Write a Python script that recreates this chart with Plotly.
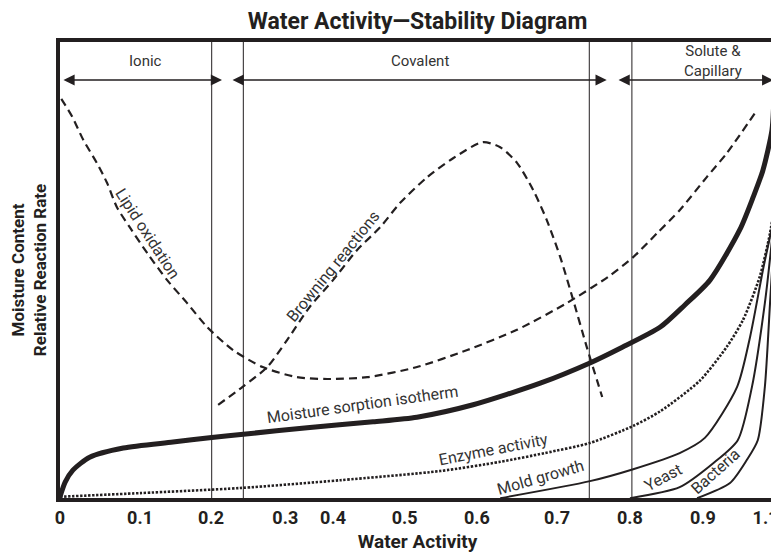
import plotly.graph_objects as go

# ---------------- data ----------------
TICK_POS = [0, 0.124, 0.234, 0.349, 0.423, 0.534, 0.646, 0.770, 0.883, 0.996, 1.093]
TICK_TEXT = ["0", "0.1", "0.2", "0.3", "0.4", "0.5", "0.6", "0.7", "0.8", "0.9", "1.1"]

lipid_x = [0.002, 0.019, 0.036, 0.057, 0.073, 0.088, 0.108, 0.135, 0.166, 0.197, 0.228, 0.268,
           0.314, 0.367, 0.414, 0.476, 0.553, 0.631, 0.708, 0.785, 0.849, 0.888, 0.925, 0.960,
           1.002, 1.033, 1.080]
lipid_y = [87.2, 83.3, 78.3, 73.3, 68.9, 63.7, 59.3, 53.7, 47.8, 42.8, 37.6, 32.6,
           28.9, 26.7, 26.3, 26.7, 28.9, 32.6, 37.0, 42.8, 48.5, 52.8, 58.0, 63.0,
           70.2, 75.4, 84.8]

brown_x = [0.245, 0.283, 0.321, 0.352, 0.387, 0.423, 0.460, 0.496, 0.527, 0.569, 0.609, 0.655,
           0.682, 0.708, 0.733, 0.754, 0.775, 0.795, 0.816, 0.840]
brown_y = [20.7, 24.6, 28.9, 34.8, 42.0, 47.8, 54.3, 59.3, 64.6, 70.2, 74.3, 77.8,
           76.7, 73.3, 67.4, 60.9, 52.8, 43.5, 33.3, 22.4]

iso_x = [0.0, 0.008, 0.020, 0.046, 0.098, 0.175, 0.235, 0.284, 0.383, 0.485, 0.553, 0.640,
         0.744, 0.821, 0.868, 0.930, 0.968, 1.007, 1.053, 1.074, 1.089, 1.103, 1.106]
iso_y = [0.7, 3.9, 6.5, 9.3, 11.3, 12.6, 13.6, 14.3, 15.7, 17.0, 18.0, 20.7,
         25.4, 29.8, 33.0, 37.6, 42.4, 47.8, 58.7, 65.9, 71.7, 80.4, 87.4]

enz_x = [0.0, 0.124, 0.279, 0.434, 0.589, 0.682, 0.751, 0.821, 0.888, 0.930, 0.991, 1.033,
         1.058, 1.084, 1.100, 1.108]
enz_y = [0.7, 1.5, 2.6, 4.3, 6.3, 8.3, 10.2, 12.4, 16.1, 19.3, 25.9, 33.3,
         39.1, 48.5, 58.0, 65.2]

mold_x = [0.682, 0.821, 0.888, 0.960, 0.999, 1.049, 1.069, 1.089, 1.105, 1.109]
mold_y = [0.4, 4.1, 6.7, 10.2, 13.5, 24.6, 35.4, 50.0, 60.9, 66.3]

yeast_x = [0.883, 0.960, 1.012, 1.050, 1.072, 1.092, 1.103, 1.109]
yeast_y = [0.4, 2.8, 8.0, 13.0, 24.6, 42.8, 56.5, 65.2]

bact_x = [0.987, 1.038, 1.064, 1.081, 1.092, 1.100, 1.106, 1.110]
bact_y = [0.4, 3.7, 8.7, 13.0, 24.6, 42.8, 56.5, 65.2]

zone_lines = [0.235, 0.284, 0.820, 0.886]

zone_labels = ["Ionic", "Covalent", "Solute &<br>Capillary"]
zone_label_x = [0.133, 0.558, 1.012]
zone_arrow_start = [0.003, 0.265, 0.863]
zone_arrow_end = [0.251, 0.847, 1.105]

curve_labels = ["Lipid oxidation", "Browning reactions", "Moisture sorption isotherm",
                "Enzyme activity", "Mold growth", "Yeast", "Bacteria"]
curve_label_x = [0.136, 0.423, 0.468, 0.671, 0.744, 0.934, 1.015]
curve_label_y = [58.0, 50.7, 20.7, 10.9, 4.8, 5.0, 6.2]
curve_label_angle = [57, -51, -8, -11, -16, -28, -42]

INK = "#231f20"
FONT = "Roboto"

fig = go.Figure()

def add_line(x, y, width, dash="solid"):
    fig.add_trace(go.Scatter(x=x, y=y, mode="lines", hoverinfo="skip",
                             line=dict(color=INK, width=width, dash=dash,
                                       shape="spline", smoothing=0.7)))

add_line(lipid_x, lipid_y, 2.2, "8px,5px")
add_line(brown_x, brown_y, 2.2, "8px,5px")
add_line(enz_x, enz_y, 2.6, "2.4px,1.6px")
add_line(mold_x, mold_y, 2)
add_line(yeast_x, yeast_y, 2)
add_line(bact_x, bact_y, 2)
add_line(iso_x, iso_y, 5)

shapes = []
for v in zone_lines:
    shapes.append(dict(type="line", xref="x", yref="paper", x0=v, x1=v, y0=0, y1=1,
                       line=dict(color=INK, width=1), layer="below"))
shapes.append(dict(type="rect", xref="paper", yref="paper", x0=0, x1=1, y0=0, y1=1,
                   line=dict(color=INK, width=4), layer="above"))

annotations = []
for lab, lx, a0, a1 in zip(zone_labels, zone_label_x, zone_arrow_start, zone_arrow_end):
    annotations.append(dict(x=lx, y=95.5, xref="x", yref="y", text=lab, showarrow=False,
                            font=dict(family=FONT, size=15, color="#333333"),
                            align="center", yanchor="middle"))
    annotations.append(dict(x=a1, y=91.3, ax=a0, ay=91.3, xref="x", yref="y",
                            axref="x", ayref="y", text="", showarrow=True,
                            arrowhead=2, arrowside="end+start", arrowsize=1.6,
                            arrowwidth=1.4, arrowcolor=INK))

for lab, lx, ly, ang in zip(curve_labels, curve_label_x, curve_label_y, curve_label_angle):
    annotations.append(dict(x=lx, y=ly, xref="x", yref="y", text=lab, showarrow=False,
                            textangle=ang, font=dict(family=FONT, size=16, color="#333333")))

# the page body adds an 8px offset; the figure is sized so the plot lands where the reference has it
fig.update_layout(
    width=771, height=545,
    margin=dict(l=50, r=2, t=32, b=53),
    paper_bgcolor="white", plot_bgcolor="white",
    showlegend=False,
    title=dict(text="<b>Water Activity\u2014Stability Diagram</b>",
               xref="paper", x=0.5, xanchor="center", y=1 - 13 / 545, yanchor="middle",
               font=dict(family=FONT, size=23, color=INK)),
    xaxis=dict(range=[-0.0031, 1.1108], tickmode="array", tickvals=TICK_POS,
               ticktext=["<b>%s</b>" % t for t in TICK_TEXT],
               showgrid=False, zeroline=False, showline=False, ticks="",
               ticklabelstandoff=5,
               tickfont=dict(family=FONT, size=18, color=INK),
               title=dict(text="<b>Water Activity</b>", standoff=8,
                          font=dict(family=FONT, size=19, color=INK))),
    yaxis=dict(range=[0, 100], showticklabels=False, showgrid=False, zeroline=False,
               showline=False, ticks="",
               title=dict(text="<b>Moisture Content<br>Relative Reaction Rate</b>", standoff=8,
                          font=dict(family=FONT, size=17, color=INK))),
    shapes=shapes,
    annotations=annotations,
)

fig.write_html("out.html")
